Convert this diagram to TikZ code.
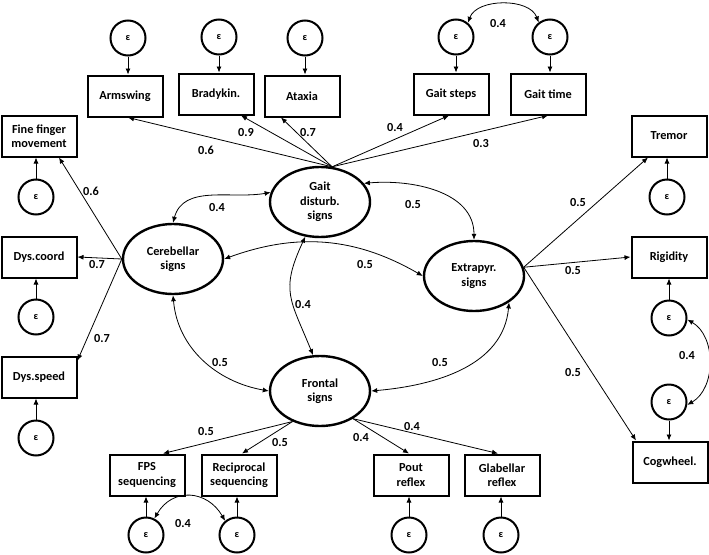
\documentclass[tikz,border=0pt]{standalone}
\usepackage{fontspec}
\setmainfont{Carlito}
\usetikzlibrary{shapes.geometric,arrows.meta}
\begin{document}
\begin{tikzpicture}[x=1pt,y=-1pt,
  box/.style={draw,line width=2pt,minimum width=75pt,minimum height=41pt,inner sep=1pt,align=center,font=\bfseries\fontsize{12.3}{14.5}\selectfont},
  lat/.style={draw,ellipse,line width=2.4pt,minimum width=100pt,minimum height=70pt,inner sep=0pt,align=center,font=\bfseries\fontsize{12.3}{14.5}\selectfont},
  err/.style={draw,circle,line width=2pt,minimum size=35pt,inner sep=0pt,font=\bfseries\fontsize{10}{12}\selectfont},
  pth/.style={-{Latex[length=6pt,width=5pt]},line width=0.8pt},
  cov/.style={{Latex[length=6pt,width=5pt]}-{Latex[length=6pt,width=5pt]},line width=0.8pt},
  lbl/.style={font=\bfseries\fontsize{12.3}{14}\selectfont,inner sep=0pt}
]
\useasboundingbox (0,0) rectangle (709,554);
% latent variables
\node[lat] (gait) at (320,202) {Gait\\disturb.\\signs};
\node[lat] (cereb) at (173,259) {Cerebellar\\signs};
\node[lat] (extra) at (474,276) {Extrapyr.\\signs};
\node[lat] (front) at (320,391) {Frontal\\signs};
% indicators
\node[box] (arm) at (125,96) {Armswing};
\node[box] (brady) at (216,94) {Bradykin.};
\node[box] (atax) at (302,96) {Ataxia};
\node[box] (gsteps) at (451,94) {Gait steps};
\node[box] (gtime) at (548,94) {Gait time};
\node[box] (fine) at (39,136) {Fine finger\\movement};
\node[box] (dcoord) at (39,257) {Dys.coord};
\node[box] (dspeed) at (39,377) {Dys.speed};
\node[box] (tremor) at (669,136) {Tremor};
\node[box] (rigid) at (669,257) {Rigidity};
\node[box] (cog) at (670,462) {Cogwheel.};
\node[box] (fps) at (147,475) {FPS\\sequencing};
\node[box] (recip) at (239,475) {Reciprocal\\sequencing};
\node[box] (pout) at (411,475) {Pout\\reflex};
\node[box] (glab) at (502,475) {Glabellar\\reflex};
% error terms
\node[err] (earm) at (128,38) {ε};
\node[err] (ebrady) at (219,37) {ε};
\node[err] (eatax) at (305,38) {ε};
\node[err] (egs) at (456,37) {ε};
\node[err] (egt) at (550,37) {ε};
\node[err] (efine) at (36,197) {ε};
\node[err] (edcoord) at (36,317) {ε};
\node[err] (edspeed) at (36,438) {ε};
\node[err] (etremor) at (667,197) {ε};
\node[err] (erigid) at (669,318) {ε};
\node[err] (ecog) at (669,402) {ε};
\node[err] (efps) at (146,535) {ε};
\node[err] (erecip) at (237,535) {ε};
\node[err] (epout) at (409,535) {ε};
\node[err] (eglab) at (501,535) {ε};
% error arrows
\foreach \e/\b in {earm/arm,ebrady/brady,eatax/atax,egs/gsteps,egt/gtime,ecog/cog}
  \draw[pth] (\e.south) -- (\e.south |- \b.north);
\foreach \e/\b in {efine/fine,edcoord/dcoord,edspeed/dspeed,etremor/tremor,erigid/rigid,efps/fps,erecip/recip,epout/pout,eglab/glab}
  \draw[pth] (\e.north) -- (\e.north |- \b.south);
% loadings gait
\draw[pth] (gait.71) -- ([xshift=3pt]arm.south);
\draw[pth] (gait.71) -- ([xshift=25pt]brady.south);
\draw[pth] (gait.71) -- ([xshift=-21pt]atax.south);
\draw[pth] (gait.71) -- ([xshift=-2pt]gsteps.south);
\draw[pth] (gait.71) -- (gtime.south);
% loadings cerebellar
\draw[pth] (cereb.west) -- ([xshift=20pt]fine.south);
\draw[pth] (cereb.west) -- (dcoord.east);
\draw[pth] (cereb.west) -- ([yshift=-5pt]dspeed.north east);
% loadings extrapyramidal
\draw[pth] (extra.10) -- ([xshift=-21pt]tremor.south);
\draw[pth] (extra.10) -- (rigid.west);
\draw[pth] (extra.10) -- ([xshift=-34pt]cog.north);
% loadings frontal
\draw[pth] (front.228) -- ([xshift=16pt]fps.north);
\draw[pth] (front.228) -- ([xshift=3pt]recip.north);
\draw[pth] (front.320) -- ([xshift=-2pt]pout.north);
\draw[pth] (front.320) -- ([xshift=-4pt]glab.north);
% covariances latent
\draw[cov] (cereb.north) to[out=75,in=190] (gait.169);
\draw[cov] (gait.23) to[out=5,in=90] (extra.north);
\draw[cov] (cereb.east) to[out=20,in=150] (extra.west);
\draw[cov] (gait.247) to[out=245,in=112,looseness=1.3] (front.101);
\draw[cov] (cereb.south) to[out=275,in=170] (front.west);
\draw[cov] (front.east) to[out=5,in=265] (extra.323);
% covariances errors
\draw[cov] (egs.50) to[out=70,in=110,looseness=0.95] (egt.128);
\draw[cov] (erigid.-5) to[out=-30,in=30] (ecog.-9);
\draw[cov] (efps.63) to[out=60,in=120,looseness=1.3] (erecip.130);
% labels
\node[lbl] (l1) at (206,150) {0.6};
\node[lbl] (l2) at (246,133) {0.9};
\node[lbl] (l3) at (308,133) {0.7};
\node[lbl] (l4) at (395,128) {0.4};
\node[lbl] (l5) at (481,144) {0.3};
\node[lbl] (l6) at (498,24) {0.4};
\node[lbl] (l7) at (91,191) {0.6};
\node[lbl] (l8) at (97,265) {0.7};
\node[lbl] (l9) at (102,339) {0.7};
\node[lbl] (l10) at (217,208) {0.4};
\node[lbl] (l11) at (413,205) {0.5};
\node[lbl] (l12) at (365,265) {0.5};
\node[lbl] (l13) at (303,305) {0.4};
\node[lbl] (l14) at (220,363) {0.5};
\node[lbl] (l15) at (440,363) {0.5};
\node[lbl] (l16) at (578,203) {0.5};
\node[lbl] (l17) at (573,271) {0.5};
\node[lbl] (l18) at (573,373) {0.5};
\node[lbl] (l19) at (687,356) {0.4};
\node[lbl] (l20) at (206,432) {0.5};
\node[lbl] (l21) at (280,443) {0.5};
\node[lbl] (l22) at (361,438) {0.4};
\node[lbl] (l23) at (412,427) {0.4};
\node[lbl] (l24) at (183,524) {0.4};
\end{tikzpicture}
\end{document}
